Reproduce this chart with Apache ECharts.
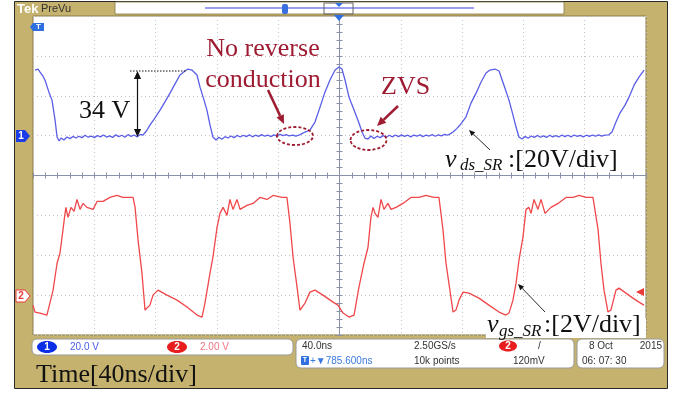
<!DOCTYPE html>
<html>
<head>
<meta charset="utf-8">
<script src="https://cdn.jsdelivr.net/npm/echarts@6/dist/echarts.min.js"></script>
<style>
  html, body { margin: 0; padding: 0; background: #fff; }
  #scope { width: 676px; height: 394px; }
</style>
</head>
<body>
<div id="scope"></div>
<script>
// time axis: 10 div x 40 ns
const timeTicks = [0, 40, 80, 120, 160, 200, 240, 280, 320, 360, 400];

// CH1 v_ds_SR [ns, V] (20 V/div)
const vdsData = [
  [1.3, 32.9], [3.3, 33.4], [4.6, 31.9], [6.5, 29.8], [7.8, 27.9], [10.4, 21.8], [12.4, 17.8], [14.4, 7.8],
  [15.7, -0.7], [17.0, -2.7], [18.3, -1.2], [20.2, -2.2], [22.2, -0.7], [24.1, -1.5], [26.1, -0.4], [28.0, -1.2],
  [30.0, -0.3], [32.0, -1.0], [34.0, 0.2], [36.0, -0.8], [38.0, -0.2], [40.0, -1.0], [42.0, 0.0], [44.0, -0.6],
  [46.0, 0.3], [48.0, -0.7], [50.0, -0.1], [52.0, -0.9], [54.0, 0.4], [56.0, -0.5], [58.0, 0.2], [60.0, -0.8],
  [62.0, 0.5], [64.0, -0.4], [66.0, 0.3], [68.0, -0.6], [70.0, 0.6], [71.8, 0.3], [74.0, 2.3], [76.3, 5.3],
  [79.5, 8.8], [82.9, 12.8], [86.0, 16.8], [89.4, 21.3], [92.6, 25.8], [95.9, 30.4], [99.2, 32.4], [101.1, 33.4],
  [103.7, 32.9], [105.0, 32.4], [107.0, 30.4], [109.0, 24.3], [111.6, 17.8], [113.5, 12.8], [115.5, 5.3], [117.4, -0.7],
  [119.4, -2.2], [121.3, -0.8], [123.3, -1.8], [125.3, -0.5], [127.2, -1.2], [129.2, -0.2], [131.2, -1.0], [133.2, 0.1],
  [135.2, -0.7], [137.2, 0.2], [139.2, -0.5], [141.2, 0.4], [143.2, -0.6], [145.2, 0.2], [147.2, -0.4], [149.2, 0.5],
  [151.2, -0.3], [153.2, 0.3], [155.2, -0.5], [157.2, 0.4], [159.2, -0.2], [161.2, 0.6], [163.2, 0.0], [165.2, 0.5],
  [167.2, -0.1], [169.6, 0.3], [171.5, -0.3], [173.5, 0.2], [175.5, 1.0], [177.5, 1.8], [180.7, 2.8], [184.0, 6.8],
  [187.3, 14.3], [190.5, 21.8], [193.8, 27.9], [197.1, 32.9], [199.7, 34.4], [201.6, 33.4], [203.6, 27.9], [206.2, 19.3],
  [209.5, 12.8], [212.7, 6.3], [214.7, 1.8], [216.6, -1.2], [218.6, -1.7], [220.5, -0.2], [222.5, -1.4], [224.5, -0.3],
  [226.5, -1.0], [228.5, 0.0], [230.5, -0.8], [232.5, 0.2], [234.5, -0.6], [236.5, 0.3], [238.5, -0.5], [240.5, 0.4],
  [242.5, -0.4], [244.5, 0.2], [246.5, -0.6], [248.5, 0.3], [250.5, -0.3], [252.5, 0.4], [254.5, -0.5], [256.5, 0.3],
  [258.5, -0.2], [260.5, 0.5], [262.5, -0.3], [264.5, 0.4], [266.5, -0.1], [268.5, 0.6], [270.5, 0.2], [272.5, 1.0],
  [274.1, 1.8], [276.5, 3.5], [278.6, 5.3], [282.5, 9.3], [285.8, 16.3], [289.1, 21.3], [292.3, 26.8], [295.6, 31.4],
  [298.2, 32.9], [301.5, 33.4], [304.1, 32.4], [307.3, 25.3], [310.6, 17.8], [313.2, 10.3], [315.2, 4.3], [317.1, -0.7],
  [319.1, -1.7], [321.1, -0.4], [323.1, -1.3], [325.1, -0.2], [327.1, -0.9], [329.1, 0.1], [331.1, -0.8], [333.1, -0.1],
  [335.1, -0.9], [337.1, 0.2], [339.1, -0.6], [341.1, 0.0], [343.1, -0.7], [345.1, 0.3], [347.1, -0.5], [349.1, 0.2],
  [351.1, -0.6], [353.1, 0.3], [355.1, -0.4], [357.1, 0.1], [359.1, -0.6], [361.1, 0.2], [363.1, -0.4], [365.1, 0.3],
  [367.1, -0.3], [369.1, 0.4], [371.1, -0.2], [373.1, 0.3], [375.8, 0.4], [377.8, 1.8], [380.4, 6.8], [383.0, 11.3],
  [386.3, 15.3], [388.9, 19.3], [392.2, 25.3], [395.4, 29.3], [398.7, 32.9]
];

// CH2 v_gs_SR [ns, V] (2 V/div)
const vgsData = [
  [0, -0.5], [1.3, -0.85], [4.6, -0.9], [9.1, -1.0], [10.4, -1.05], [13.1, 0.25], [15.7, 1.6], [17.6, 2.1],
  [19.6, 3.3], [20.9, 4.1], [21.5, 4.4], [22.8, 3.9], [24.8, 4.4], [26.8, 4.2], [28.7, 4.8], [30.7, 4.3],
  [32.6, 4.6], [35.2, 4.4], [39.2, 4.3], [41.8, 4.7], [45.7, 4.7], [50.2, 4.9], [54.8, 5.0], [58.7, 4.9],
  [63.3, 4.9], [65.3, 4.9], [66.6, 4.4], [68.5, 2.8], [71.1, 1.1], [73.1, -0.75], [74.4, -0.85], [76.3, -0.5],
  [78.3, 0], [81.6, 0.25], [87.4, 0], [94.0, -0.25], [100.5, -0.6], [107.0, -1.0], [110.3, -1.1], [112.2, -0.4],
  [115.5, 1.1], [117.4, 1.9], [120.1, 3.4], [122.0, 4.1], [124.0, 4.4], [126.6, 4.0], [128.5, 4.8], [130.5, 4.3],
  [133.1, 4.8], [135.1, 4.3], [139.6, 4.5], [143.6, 4.6], [148.1, 4.9], [152.7, 4.8], [156.6, 5.0], [162.5, 4.9],
  [165.7, 4.9], [167.7, 3.6], [169.7, 1.9], [172.3, 0.4], [174.2, -0.75], [175.5, -0.85], [177.5, -0.4], [180.7, 0.15],
  [184.0, 0.25], [189.2, 0], [195.8, -0.35], [199.0, -0.5], [202.3, -0.9], [206.2, -1.1], [209.5, -1.0], [212.7, 0.4],
  [216.0, 1.6], [218.6, 2.4], [220.5, 3.9], [221.9, 4.4], [223.2, 4.1], [225.1, 3.9], [227.1, 4.8], [229.0, 4.3],
  [231.6, 4.6], [233.6, 4.3], [236.9, 4.4], [241.4, 4.6], [246.6, 4.9], [251.9, 4.9], [256.4, 5.0], [261.7, 4.9],
  [264.9, 4.9], [267.5, 3.3], [269.5, 1.6], [272.7, -0.1], [274.1, -0.85], [276.0, -0.75], [278.0, -0.25], [280.6, 0.15],
  [284.5, 0.1], [291.0, -0.15], [297.5, -0.5], [304.1, -0.85], [308.6, -1.0], [310.6, -0.9], [313.2, -0.25], [315.2, 0.6],
  [317.1, 1.75], [319.7, 2.9], [321.7, 4.3], [323.6, 4.4], [325.0, 4.1], [326.9, 4.8], [329.5, 4.3], [331.5, 4.8],
  [334.1, 4.1], [338.0, 4.4], [342.6, 4.6], [347.8, 4.9], [352.4, 4.9], [356.3, 5.0], [360.8, 4.9], [365.4, 4.9],
  [368.7, 3.3], [370.6, 1.6], [372.6, 0.25], [375.2, -0.85], [377.1, -0.75], [380.4, 0.25], [382.4, 0.35], [386.9, 0.1],
  [391.5, -0.15], [395.4, -0.35], [398.7, -0.5]
];

// vertical scales: ch1 ground 1 div above centre, ch2 ground 3 div below centre
const ch1Range = [-100, 60];
const ch2Range = [-2, 14];

const DARKRED = '#9e1b32';
const SERIF = '"Liberation Serif", "DejaVu Serif", serif';
const MONO = '"Liberation Sans", Arial, sans-serif';

// arrow = line + filled head at (x2, y2)
function arrow(x1, y1, x2, y2, color, w, head) {
  const a = Math.atan2(y2 - y1, x2 - x1);
  const bx = x2 - head * Math.cos(a), by = y2 - head * Math.sin(a);
  const px = Math.sin(a) * head * 0.45, py = -Math.cos(a) * head * 0.45;
  return [
    {type: 'line', z: 100, shape: {x1: x1, y1: y1, x2: bx, y2: by}, style: {stroke: color, lineWidth: w}},
    {type: 'polygon', z: 100, shape: {points: [[x2, y2], [bx + px, by + py], [bx - px, by - py]]}, style: {fill: color}}
  ];
}

function txt(x, y, text, font, fill, align, va) {
  return {type: 'text', z: 101, x: x, y: y,
    style: {text: text, font: font, fill: fill, align: align || 'left', verticalAlign: va || 'middle'}};
}

const elements = [
  // scope frame
  {type: 'rect', z: -10, shape: {x: 14.5, y: 1.5, width: 653, height: 387}, style: {fill: '#c4b26e', stroke: '#2a2a2a', lineWidth: 1}},
  // top bar
  {type: 'rect', z: 100, shape: {x: 115, y: 2, width: 449, height: 12}, style: {fill: '#fff', stroke: '#8a7a45', lineWidth: 0.8}},
  {type: 'line', z: 100, shape: {x1: 205, y1: 8, x2: 474, y2: 8}, style: {stroke: '#9a9ef2', lineWidth: 2}},
  {type: 'rect', z: 101, shape: {x: 324, y: 3, width: 29, height: 11}, style: {fill: 'none', stroke: '#666', lineWidth: 1}},
  {type: 'rect', z: 101, shape: {x: 282, y: 4, width: 6, height: 10, r: 2}, style: {fill: '#3a6fe0'}},
  {type: 'polygon', z: 101, shape: {points: [[335, 3], [343, 3], [339, 7]]}, style: {fill: '#2f6fe0'}},
  {type: 'polygon', z: 101, shape: {points: [[334, 15], [344, 15], [339, 21]]}, style: {fill: '#2f6fe0'}},
  txt(17, 9, 'Tek', 'bold 13px ' + MONO, '#fff'),
  txt(41, 9, 'PreVu', '11px ' + MONO, '#333'),

  // left markers
  {type: 'polygon', z: 100, shape: {points: [[33, 23], [44, 23], [44, 31], [33, 31], [30, 27]]}, style: {fill: '#2f6fe0'}},
  txt(38.5, 27, 'T', 'bold 8px ' + MONO, '#fff', 'center'),
  {type: 'polygon', z: 100, shape: {points: [[16, 130], [25, 130], [30, 136], [25, 142], [16, 142]]}, style: {fill: '#1c3ee8'}},
  txt(21, 136, '1', 'bold 10px ' + MONO, '#fff', 'center'),
  {type: 'polygon', z: 100, shape: {points: [[16, 290], [25, 290], [30, 296], [25, 302], [16, 302]]}, style: {fill: '#fff', stroke: '#e83a3a', lineWidth: 1}},
  txt(21, 296, '2', 'bold 10px ' + MONO, '#e83a3a', 'center'),
  {type: 'polygon', z: 100, shape: {points: [[636, 292], [644, 288], [644, 296]]}, style: {fill: '#e83a3a'}},

  // status bar
  {type: 'rect', z: 100, shape: {x: 32, y: 339, width: 261, height: 16, r: 5}, style: {fill: '#fff', stroke: '#9a9a9a', lineWidth: 1}},
  {type: 'ellipse', z: 101, shape: {cx: 47, cy: 347, rx: 10, ry: 6}, style: {fill: '#0a2fe6'}},
  txt(47, 347, '1', 'bold 10px ' + MONO, '#fff', 'center'),
  txt(70, 347, '20.0 V', '10px ' + MONO, '#4a5ae8'),
  {type: 'ellipse', z: 101, shape: {cx: 177, cy: 347, rx: 10, ry: 6}, style: {fill: '#e81e1e'}},
  txt(177, 347, '2', 'bold 10px ' + MONO, '#fff', 'center'),
  txt(200, 347, '2.00 V', '10px ' + MONO, '#f07585'),

  {type: 'rect', z: 100, shape: {x: 296, y: 339, width: 278, height: 29, r: 5}, style: {fill: '#fff', stroke: '#9a9a9a', lineWidth: 1}},
  txt(302, 346, '40.0ns', '10px ' + MONO, '#333'),
  txt(414, 346, '2.50GS/s', '10px ' + MONO, '#333'),
  {type: 'ellipse', z: 101, shape: {cx: 508, cy: 346, rx: 9, ry: 5.5}, style: {fill: '#e81e1e'}},
  txt(508, 346, '2', 'bold 10px ' + MONO, '#fff', 'center'),
  txt(538, 346, '/', '10px ' + MONO, '#333'),
  {type: 'rect', z: 101, shape: {x: 301, y: 356, width: 8, height: 9, r: 1}, style: {fill: '#2f6fe0'}},
  txt(305, 360.5, 'T', 'bold 7px ' + MONO, '#fff', 'center'),
  txt(310, 361, '+\u25BC785.600ns', '10px ' + MONO, '#3a7ae0'),
  txt(414, 361, '10k points', '10px ' + MONO, '#333'),
  txt(513, 361, '120mV', '10px ' + MONO, '#333'),

  {type: 'rect', z: 100, shape: {x: 577, y: 339, width: 87, height: 29, r: 5}, style: {fill: '#fff', stroke: '#9a9a9a', lineWidth: 1}},
  txt(589, 346, '8 Oct', '10px ' + MONO, '#333'),
  txt(662, 346, '2015', '10px ' + MONO, '#333', 'right'),
  txt(582, 361, '06: 07: 30', '10px ' + MONO, '#333'),

  txt(36, 375, 'Time[40ns/div]', '26px ' + SERIF, '#111'),

  // 34 V annotation
  {type: 'line', z: 100, shape: {x1: 130, y1: 71, x2: 187, y2: 71}, style: {stroke: '#111', lineWidth: 1, lineDash: [1.5, 1.5]}},
  ...arrow(137.5, 104, 137.5, 71, '#111', 1.2, 8),
  ...arrow(137.5, 104, 137.5, 137, '#111', 1.2, 8),
  txt(79, 111, '34 V', '26px ' + SERIF, '#111'),

  // no reverse conduction
  txt(263, 49, 'No reverse', '26px ' + SERIF, DARKRED, 'center'),
  txt(263, 80, 'conduction', '26px ' + SERIF, DARKRED, 'center'),
  ...arrow(268, 90, 284, 124, DARKRED, 2.5, 9),
  {type: 'ellipse', z: 100, shape: {cx: 295, cy: 136, rx: 18, ry: 9}, style: {fill: 'none', stroke: DARKRED, lineWidth: 1.8, lineDash: [3, 2]}},

  // ZVS
  txt(381, 87, 'ZVS', '26px ' + SERIF, DARKRED),
  ...arrow(398, 106, 377, 126, DARKRED, 2.5, 9),
  {type: 'ellipse', z: 100, shape: {cx: 368.5, cy: 140, rx: 18, ry: 10}, style: {fill: 'none', stroke: DARKRED, lineWidth: 1.8, lineDash: [3, 2]}},

  // v_ds_SR label
  ...arrow(490, 150, 469, 130, '#111', 0.9, 6),
  txt(445, 160, 'v', 'italic 26px ' + SERIF, '#111'),
  txt(460, 166, 'ds_SR', 'italic 17px ' + SERIF, '#111'),
  txt(508, 160, ':[20V/div]', '26px ' + SERIF, '#111'),

  // v_gs_SR label
  {type: 'rect', z: 99, shape: {x: 486, y: 318, width: 160, height: 20}, style: {fill: '#fff'}},
  ...arrow(545, 312, 518, 284, '#111', 0.9, 6),
  txt(487, 325, 'v', 'italic 26px ' + SERIF, '#111'),
  txt(499, 332, 'gs_SR', 'italic 17px ' + SERIF, '#111'),
  txt(544, 325, ':[2V/div]', '26px ' + SERIF, '#111')
];

const gridLine = {show: true, lineStyle: {color: '#c3c3cc', type: [1, 3], width: 1}};
const crossColor = '#8a90aa';

const option = {
  backgroundColor: '#fff',
  animation: false,
  grid: {left: 33, top: 16, width: 613, height: 319, show: true, backgroundColor: '#fff', borderColor: '#8a7a45', borderWidth: 1},
  xAxis: [
    {type: 'value', min: timeTicks[0], max: timeTicks[timeTicks.length - 1], interval: 40,
      axisLine: {show: false}, axisTick: {show: false}, axisLabel: {show: false}, splitLine: gridLine},
    {type: 'value', min: 0, max: 400, interval: 40, position: 'bottom', offset: -159.5,
      axisLine: {show: true, lineStyle: {color: crossColor}}, axisTick: {show: true, inside: true, length: 3, lineStyle: {color: crossColor}},
      minorTick: {show: true, splitNumber: 5, length: 3, lineStyle: {color: crossColor}},
      axisLabel: {show: false}, splitLine: {show: false}},
    {type: 'value', min: 0, max: 400, interval: 40, position: 'bottom', offset: -159.5,
      axisLine: {show: false}, axisTick: {show: true, inside: false, length: 3, lineStyle: {color: crossColor}},
      minorTick: {show: true, splitNumber: 5, length: 3, lineStyle: {color: crossColor}},
      axisLabel: {show: false}, splitLine: {show: false}}
  ],
  yAxis: [
    {type: 'value', min: ch1Range[0], max: ch1Range[1], interval: 20,
      axisLine: {show: false}, axisTick: {show: false}, axisLabel: {show: false}, splitLine: gridLine},
    {type: 'value', min: ch2Range[0], max: ch2Range[1], interval: 2, show: false},
    {type: 'value', min: ch1Range[0], max: ch1Range[1], interval: 20, position: 'left', offset: -306.5,
      axisLine: {show: true, lineStyle: {color: crossColor}}, axisTick: {show: true, inside: true, length: 3, lineStyle: {color: crossColor}},
      minorTick: {show: true, splitNumber: 5, length: 3, lineStyle: {color: crossColor}},
      axisLabel: {show: false}, splitLine: {show: false}},
    {type: 'value', min: ch1Range[0], max: ch1Range[1], interval: 20, position: 'left', offset: -306.5,
      axisLine: {show: false}, axisTick: {show: true, inside: false, length: 3, lineStyle: {color: crossColor}},
      minorTick: {show: true, splitNumber: 5, length: 3, lineStyle: {color: crossColor}},
      axisLabel: {show: false}, splitLine: {show: false}}
  ],
  graphic: {elements: elements},
  series: [
    {name: 'vds_SR', type: 'line', xAxisIndex: 0, yAxisIndex: 0, data: vdsData, showSymbol: false,
      lineStyle: {color: '#5a5ee6', width: 1.3}, itemStyle: {color: '#5a5ee6'}},
    {name: 'vgs_SR', type: 'line', xAxisIndex: 0, yAxisIndex: 1, data: vgsData, showSymbol: false,
      lineStyle: {color: '#f0474a', width: 1.3}, itemStyle: {color: '#f0474a'}}
  ]
};

echarts.init(document.getElementById('scope')).setOption(option);
</script>
</body>
</html>
